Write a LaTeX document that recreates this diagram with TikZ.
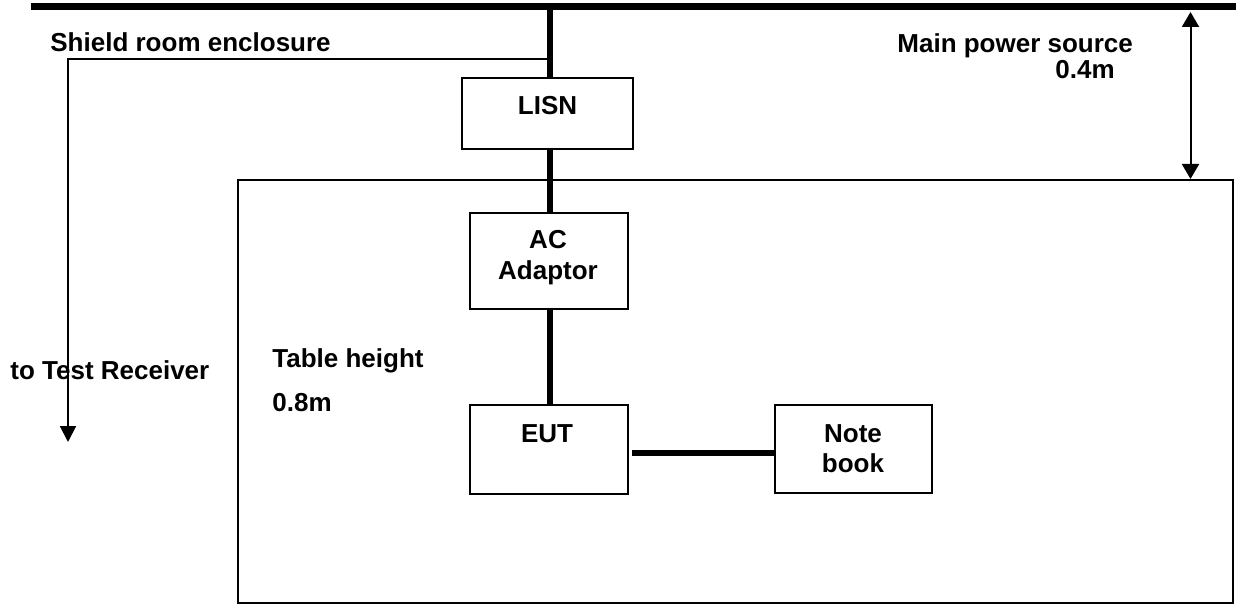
\documentclass[tikz,border=0pt]{standalone}
\usepackage{fontspec}
\setmainfont{Liberation Sans}
\usetikzlibrary{arrows.meta}
\begin{document}
\begin{tikzpicture}[x=0.5pt,y=-0.5pt,
  lbl/.style={font=\bfseries\fontsize{13}{15}\selectfont, inner sep=0pt},
  box/.style={draw, line width=1pt, inner sep=0pt, minimum width=#1},
  thin/.style={line width=1pt},
  thick/.style={line width=3.4pt},
  tip/.style={-{Triangle[length=8pt,width=8pt]}},
  dtip/.style={{Triangle[length=7.5pt,width=8.5pt]}-{Triangle[length=7.5pt,width=8.5pt]}}
]
\useasboundingbox (0,0) rectangle (1236,604);
% table
\node[draw, line width=1pt, inner sep=0pt, minimum width=497.5pt, minimum height=211.5pt] (table) at (735.5,391.5) {};
% boxes
\node[box=85.5pt, minimum height=35.5pt] (lisn) at (547.5,113.5) {};
\node[box=79pt, minimum height=48pt] (ac) at (549,261) {};
\node[box=79pt, minimum height=44.5pt] (eut) at (549,449.5) {};
\node[box=78.5pt, minimum height=44pt] (nb) at (853,449) {};
% texts
\node[lbl, anchor=base] (tlisn) at (547.5,115) {LISN};
\node[lbl, anchor=base] (tac) at (548,249) {AC};
\node[lbl, anchor=base] (tad) at (548,279) {Adaptor};
\node[lbl, anchor=base] (teut) at (547,442) {EUT};
\node[lbl, anchor=base] (tnote) at (853,442) {Note};
\node[lbl, anchor=base] (tbook) at (853,472) {book};
\node[lbl, anchor=base west] (tshield) at (50,52) {Shield room enclosure};
\node[lbl, anchor=base west] (tmain) at (897,53) {Main power source};
\node[lbl, anchor=base west] (tdist) at (1055,79) {0.4m};
\node[lbl, anchor=base west] (ttable) at (272,367) {Table height};
\node[lbl, anchor=base west] (th) at (272,411) {0.8m};
\node[lbl, anchor=base west] (trx) at (10,379) {to Test Receiver};
% coordinates
\coordinate (barL) at (31,6.5);
\coordinate (barR) at (1236,6.5);
\coordinate (tap) at (550,6.5);
\coordinate (tapS) at (550,59);
\coordinate (corner) at (68,59);
\coordinate (rx) at (68,442);
\coordinate (dTop) at (1190.5,12);
\coordinate (dBot) at (1190.5,179);
% main power bar
\draw[thick] (barL) -- (barR);
\draw[thick] (tap) -- (lisn.north -| tap);
\draw[thick] (lisn.south -| tap) -- (ac.north -| tap);
\draw[thick] (ac.south -| tap) -- (eut.north -| tap);
\draw[thick] ([xshift=1.5pt]eut.east) ++(0,3.5) coordinate (e1) -- (e1 -| nb.west);
% to receiver
\draw[thin, tip] (tapS) -- (corner) -- (rx);
% 0.4m dimension
\draw[thin, dtip] (dTop) -- (dBot);
\end{tikzpicture}
\end{document}
